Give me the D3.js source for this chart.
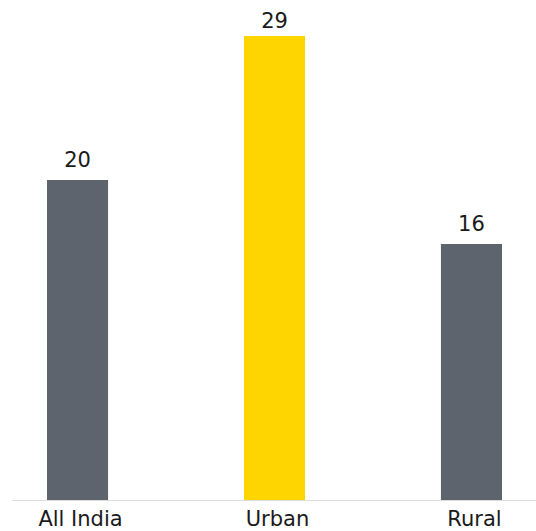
<!DOCTYPE html>
<html><head><meta charset="utf-8">
<script src="https://cdn.jsdelivr.net/npm/d3@7"></script>
<style>html,body{margin:0;padding:0;background:#fff;}</style>
</head><body>
<svg id="c" width="536" height="531"></svg>
<script>
const categories = ["All India", "Urban", "Rural"];
const values = [20, 29, 16];
const colors = ["#5D646E", "#FFD500", "#5D646E"];

const svg = d3.select("#c");
const x = d3.scaleBand().domain(categories).range([47, 502]).paddingInner(0.69).paddingOuter(0);
const y = d3.scaleLinear().domain([0, d3.max(values)]).range([500, 36]);
const font = "'DejaVu Sans', Verdana, sans-serif";

svg.append("line").attr("x1", 12).attr("x2", 536).attr("y1", 500.5).attr("y2", 500.5)
  .attr("stroke", "#dcdcdc").attr("stroke-width", 1);

svg.selectAll("rect.bar").data(categories).enter().append("rect")
  .attr("x", d => x(d)).attr("width", x.bandwidth())
  .attr("y", (d, i) => y(values[i])).attr("height", (d, i) => y(0) - y(values[i]))
  .attr("fill", (d, i) => colors[i]);

svg.selectAll("text.val").data(categories).enter().append("text")
  .attr("x", d => x(d) + x.bandwidth() / 2)
  .attr("y", (d, i) => Math.max(y(values[i]) - 13, 28))
  .attr("text-anchor", "middle").attr("font-family", font).attr("font-size", 21)
  .attr("fill", "#1a1a1a").text((d, i) => values[i]);

svg.selectAll("text.cat").data(categories).enter().append("text")
  .attr("x", d => x(d) + x.bandwidth() / 2 + 3)
  .attr("y", 526)
  .attr("text-anchor", "middle").attr("font-family", font).attr("font-size", 21)
  .attr("fill", "#1a1a1a").text(d => d);
</script>
</body></html>
